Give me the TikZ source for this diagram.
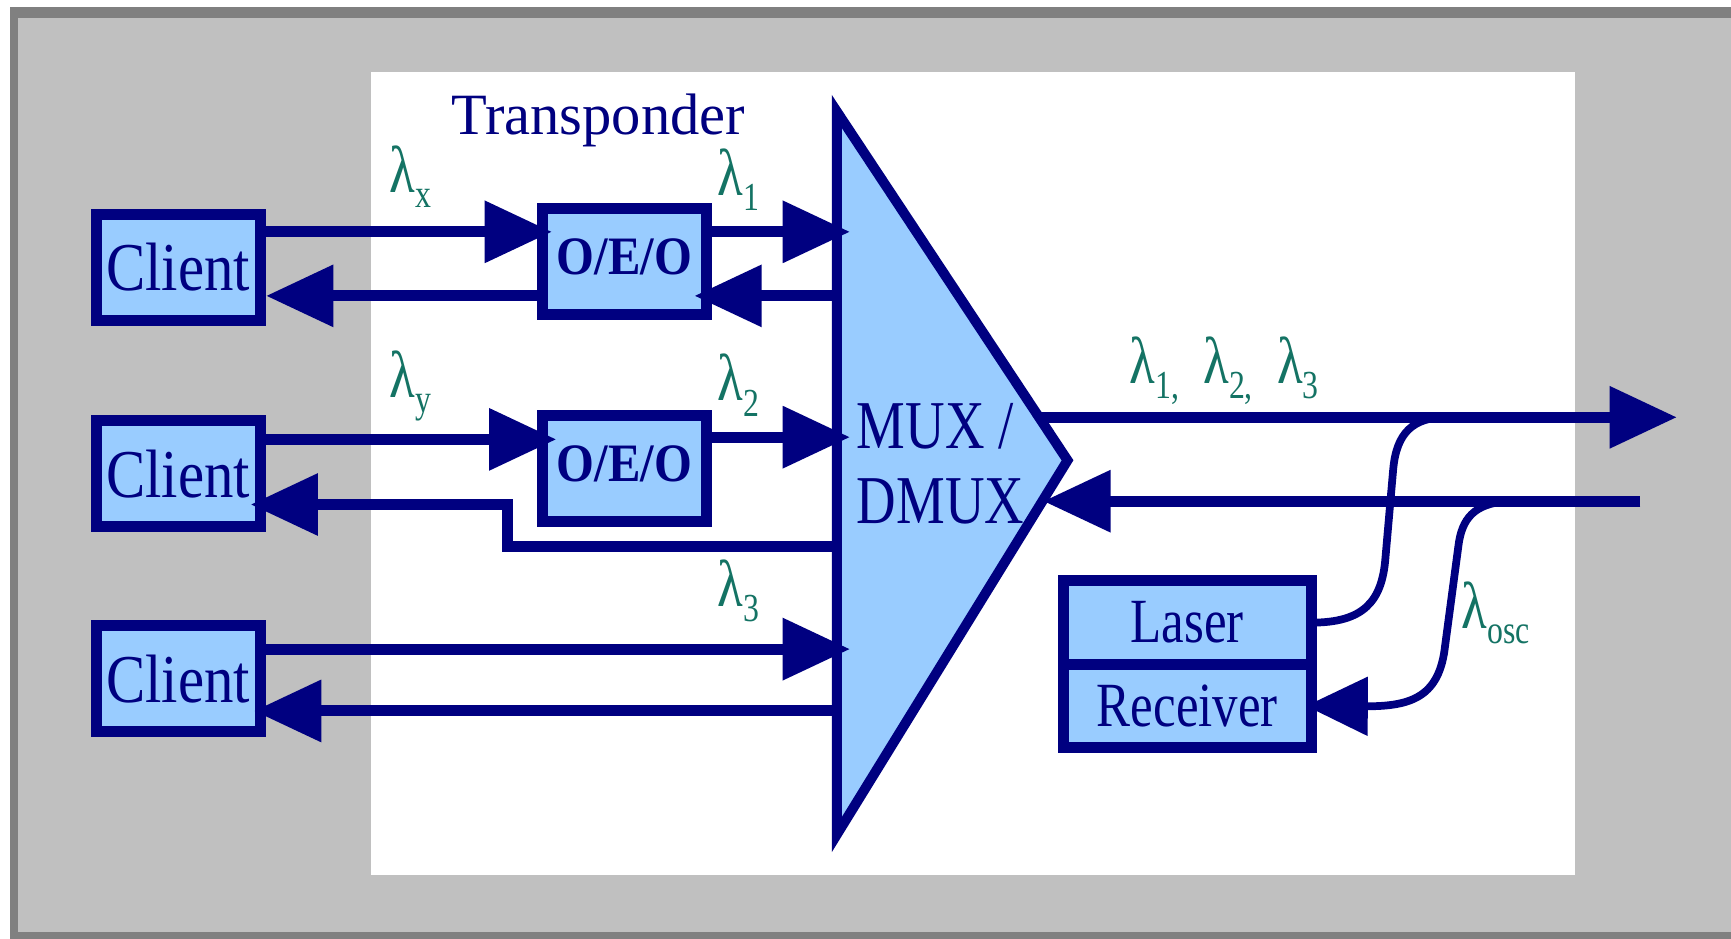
\documentclass[tikz,border=0pt]{standalone}
\usepackage{fontspec}
\setmainfont{Liberation Serif}
\newfontfamily\clientface[FakeStretch=0.86]{Liberation Serif}
\newfontfamily\muxface[FakeStretch=0.80]{Liberation Serif}
\newfontfamily\unitface[FakeStretch=0.81]{Liberation Serif}
\newfontfamily\oeoface[FakeStretch=0.90]{Liberation Serif}
\newfontfamily\lamface[FakeStretch=0.80]{Liberation Serif}
\usetikzlibrary{arrows.meta}

\definecolor{navy}{RGB}{0,0,128}
\definecolor{paleblue}{RGB}{153,204,255}
\definecolor{panelgray}{RGB}{192,192,192}
\definecolor{edgegray}{RGB}{128,128,128}
\definecolor{wavegreen}{RGB}{20,115,100}

% wavelength label: lambda with a lowered index
\newcommand\wl[1]{λ\raisebox{-14pt}{\fontsize{36}{36}\selectfont #1}}

\tikzset{
  unit/.style={draw=navy, fill=paleblue, line width=10pt, inner sep=0pt,
               outer sep=0pt, text=navy},
  clientbox/.style={unit, minimum width=149pt, minimum height=96pt,
               font=\clientface\fontsize{62}{62}\selectfont},
  oeobox/.style={unit, minimum width=149pt, minimum height=96pt,
               font=\oeoface\bfseries\fontsize{49}{49}\selectfont},
  trxbox/.style={unit, minimum width=225pt,
               font=\unitface\fontsize{57}{57}\selectfont},
  link/.style={navy, line width=10pt},
  arr/.style={link, -{Triangle[length=61pt,width=54pt]}},
  fiber/.style={navy, line width=7pt},
  wave/.style={text=wavegreen, font=\lamface\fontsize{60}{60}\selectfont,
               inner sep=0pt, anchor=base west},
}

\begin{document}
\begin{tikzpicture}[x=1pt, y=-1pt]
\useasboundingbox (0,0) rectangle (1568,850);

% frame and panel
\fill[edgegray] (9,6) rectangle (1580,860);
\fill[panelgray] (16,16) rectangle (1580,844);
\fill[white] (336,65) rectangle (1427,793);

% multiplexer / demultiplexer
\coordinate (mt) at (758,101);
\coordinate (ma) at (967,417);
\coordinate (mb) at (758,756);
\filldraw[draw=navy, fill=paleblue, line width=9pt] (mt) -- (ma) -- (mb) -- cycle;

% ports on the multiplexer
\coordinate (p1in)  at (770,210);
\coordinate (p1out) at (758,268);
\coordinate (p2in)  at (770,396);
\coordinate (p2out) at (758,495);
\coordinate (p3in)  at (770,588);
\coordinate (p3out) at (758,644);
\coordinate (pout)  at (943,378);
\coordinate (pin)   at (945,454);
\coordinate (lineout) at (1519,378);
\coordinate (linein)  at (1486,454);
\coordinate (b2) at (460,457);
\coordinate (tapout) at (1310,378);
\coordinate (tapin)  at (1366,454);

% clients and transponders
\node[clientbox] (c1) at (161.5,242) {Client};
\node[clientbox] (c2) at (161.5,429) {Client};
\node[clientbox] (c3) at (161.5,615) {Client};
\node[oeobox] (o1) at (565.5,237) {\raisebox{9pt}{O/E/O}};
\node[oeobox] (o2) at (565.5,424) {\raisebox{9pt}{O/E/O}};

% supervisory channel unit
\node[trxbox, minimum height=76pt] (laser) at (1075.5,564) {Laser};
\node[trxbox, minimum height=75pt] (rcv) at (1075.5,639.5) {Receiver};

% row 1
\draw[arr, shorten >=-9pt] (c1.east |- p1in) -- (o1.west |- p1in);
\draw[arr] (o1.east |- p1in) -- (p1in);
\draw[arr, shorten >=-11pt] (p1out) -- (o1.east |- p1out);
\draw[arr, shorten >=5pt] (o1.west |- p1out) -- (c1.east |- p1out);

% row 2
\draw[arr, shorten >=-13pt] (c2.east |- 0,398) -- (o2.west |- 0,398);
\draw[arr] (o2.east |- p2in) -- (p2in);
\draw[arr, shorten >=-9pt] (p2out) -| (b2) -- (c2.east |- b2);

% row 3
\draw[arr] (c3.east |- p3in) -- (p3in);
\draw[arr, shorten >=-6pt] (p3out) -- (c3.east |- p3out);

% line side
\draw[arr] (pout) -- (lineout);
\draw[arr] (linein) -- (pin);
\draw[fiber] (laser.east) .. controls (1235,564) and (1252,545) .. (1255,505)
  -- (1262,425) .. controls (1265,392) and (1280,378) .. (tapout);
\draw[fiber, -{Triangle[length=56pt,width=52pt]}, shorten >=-5pt]
  (tapin) .. controls (1335,456) and (1324,470) .. (1321,495)
  -- (1309,585) .. controls (1304,630) and (1280,640) .. (rcv.east);

% texts
\node[anchor=base, text=navy, inner sep=0pt,
      font=\fontsize{53}{53}\selectfont] (title) at (542,122) {Transponder};
\node[anchor=base west, align=left, text=navy, inner sep=0pt,
      font=\muxface\fontsize{62}{68}\selectfont] (muxtext) at (776,474)
      {MUX /\\DMUX};

\node[wave] (lx) at (353,174) {\wl{x}};
\node[wave] (l1) at (650,177) {\wl{1}};
\node[wave] (ly) at (353,360) {\wl{y}};
\node[wave] (l2) at (650,363) {\wl{2}};
\node[wave] (l3) at (650,549) {\wl{3}};
\node[wave] (lall) at (1023,347) {\wl{1,}\hspace{22pt}\wl{2,}\hspace{22pt}\wl{3}};
\node[wave] (losc) at (1324,569) {\wl{osc}};
\end{tikzpicture}
\end{document}
